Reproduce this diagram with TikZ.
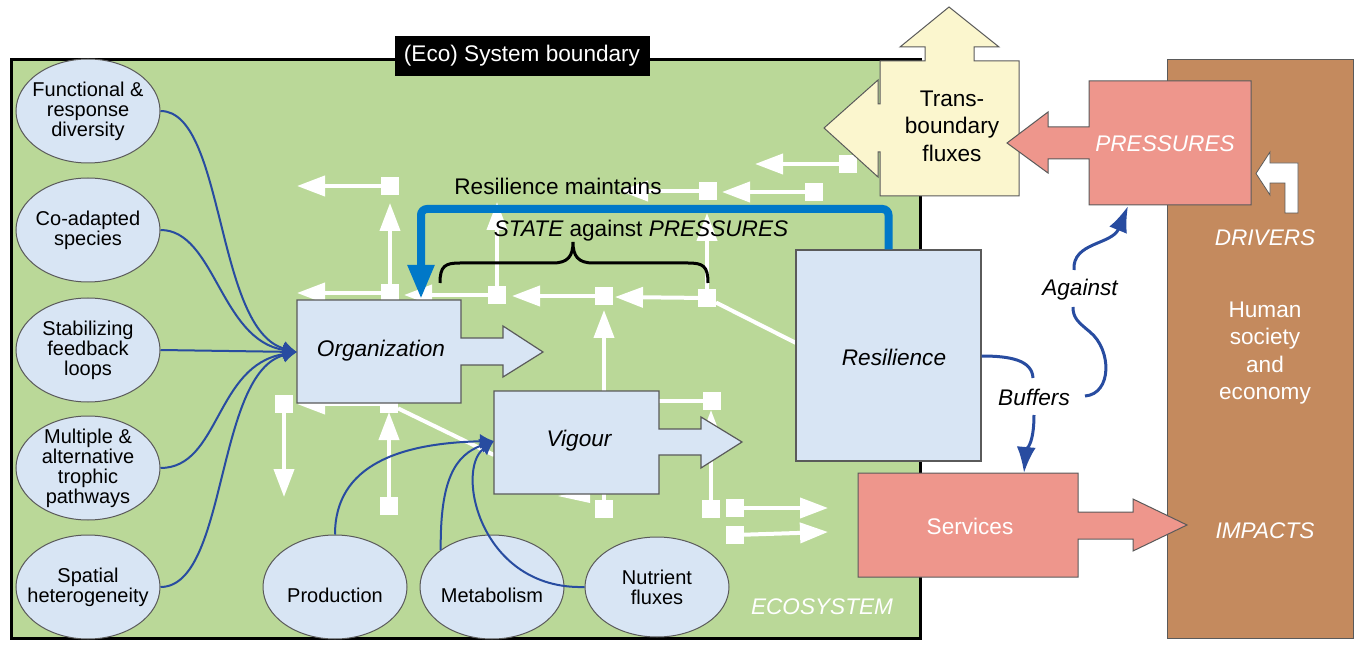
\documentclass[tikz,border=0pt]{standalone}
\usepackage{fontspec}
\setmainfont{Liberation Sans}
\usetikzlibrary{arrows.meta,shapes.geometric}
\definecolor{ecogreen}{RGB}{186,216,152}
\definecolor{lightblue}{RGB}{216,229,244}
\definecolor{ylw}{RGB}{251,246,206}
\definecolor{pinkred}{RGB}{238,150,140}
\definecolor{brn}{RGB}{196,138,94}
\definecolor{bigblue}{RGB}{0,120,200}
\definecolor{dblue}{RGB}{40,76,160}
\definecolor{edgegrey}{RGB}{90,90,90}
\tikzset{
 wl/.style={white,line width=2pt},
 wa/.style={white,line width=2pt,-{Triangle[length=14pt,width=10pt]}},
 sq/.style={fill=white,draw=none,minimum size=9pt,inner sep=0pt,outer sep=0pt},
 ell/.style={ellipse,draw=edgegrey,line width=0.5pt,fill=lightblue,minimum width=72pt,minimum height=52pt,inner sep=0pt},
 etxt/.style={align=center,inner sep=0pt,font=\fontsize{10}{10}\selectfont},
 boxshape/.style={draw=edgegrey,line width=0.6pt,fill=lightblue},
 lbl/.style={font=\fontsize{11.3}{13.7}\selectfont,align=center,inner sep=0pt},
 conn/.style={dblue,line width=1pt,-{Latex[length=7pt,width=7.5pt]}},
 bconn/.style={dblue,line width=1.5pt},
 bconnarrow/.style={dblue,line width=1.5pt,-{Latex[length=13pt,width=9.5pt]}},
}
\begin{document}
\begin{tikzpicture}[x=0.5pt,y=-0.5pt]
\useasboundingbox (0,0) rectangle (1366,652);
% ecosystem area
\draw[fill=ecogreen,line width=1.5pt] (11,60) rectangle (920,638);
\node[fill=black,text=white,minimum width=127.5pt,minimum height=20pt,inner sep=0pt,font=\fontsize{11.3}{13.7}\selectfont] (boundary) at (522,56) {(Eco) System boundary};
\node[white,font=\fontsize{11.3}{13.7}\selectfont\itshape,inner sep=0pt] (ecolbl) at (822,607) {ECOSYSTEM};

% white network squares
\node[sq] (sA) at (390,186) {};
\node[sq] (sB) at (390,293) {};
\node[sq] (sC) at (497,295) {};
\node[sq] (sD) at (604,296) {};
\node[sq] (sE) at (707,298) {};
\node[sq] (sF) at (708,191) {};
\node[sq] (sG) at (814,192) {};
\node[sq] (sH) at (848,164) {};
\node[sq] (sI) at (389,404) {};
\node[sq] (sJ) at (284,404) {};
\node[sq] (sK) at (389,506) {};
\node[sq] (sL) at (604,509) {};
\node[sq] (sM) at (712,401) {};
\node[sq] (sN) at (711,509) {};
\node[sq] (sO) at (735,508) {};
\node[sq] (sP) at (735,535) {};
\coordinate (resleft) at (796,343);
\coordinate (vigleft) at (494,455);
\coordinate (vigright) at (650,401);
% white network arrows
\draw[wa] (sA) -- (297,186);
\draw[wa] (sB) -- (390,203);
\draw[wa] (sB) -- (297,293);
\draw[wa] (sC) -- (404,295);
\draw[wa] (sC) -- (497,202);
\draw[wa] (sD) -- (512,296);
\draw[wa] (sE) -- (615,297);
\draw[wl] (sE) -- (resleft);
\draw[wa] (sE) -- (707,213);
\draw[wa] (sF) -- (620,191);
\draw[wa] (sG) -- (722,192);
\draw[wa] (sH) -- (755,164);
\draw[wa] (sI) -- (297,404);
\draw[wl] (sI) -- (vigleft);
\draw[wa] (sJ) -- (284,497);
\draw[wa] (sK) -- (389,412);
\draw[wa] (sL) -- (604,310);
\draw[wl] (sM) -- (vigright);
\draw[wa] (sN) -- (711,410);
\draw[wa] (sO) -- (828,508);
\draw[wa] (sP) -- (828,532);
\fill[white] (558,496) -- (590,489) -- (590,503) -- cycle;

% Organization
\draw[boxshape] (297,300) -- (461,300) -- (461,338) -- (503,338) -- (503,326) -- (543,352) -- (503,377) -- (503,365) -- (461,365) -- (461,403) -- (297,403) -- cycle;
\node[lbl] (org) at (381,351) {\itshape Organization};
\coordinate (orgin) at (297,352);
\coordinate (orgtop) at (421,299);
% Vigour
\draw[boxshape] (494,391) -- (659,391) -- (659,429) -- (701,429) -- (701,417) -- (742,442) -- (701,468) -- (701,455) -- (659,455) -- (659,494) -- (494,494) -- cycle;
\node[lbl] (vig) at (579,441) {\itshape Vigour};
\coordinate (vigin) at (494,441);
% Resilience
\node[boxshape,rectangle,minimum width=92.5pt,minimum height=105.5pt,inner sep=0pt] (res) at (888.5,355.5) {};
\node[lbl] (restxt) at (894,357) {\itshape Resilience};

% big blue arrow
\draw[bigblue,line width=4pt,rounded corners=3pt,-{Triangle[length=17pt,width=12.5pt]}] (res.north) -- (888.5,209) -- (421,209) -- (orgtop);
\node[lbl] (maint) at (558,186) {Resilience maintains};
\node[lbl] (state) at (641,231) {\itshape STATE\upshape{} against \itshape PRESSURES};
\draw[black,line width=1.5pt] (440,283) .. controls (440,266) and (445,263) .. (460,263) -- (553,263) .. controls (568,263) and (573,256) .. (573,242) .. controls (573,256) and (578,263) .. (593,263) -- (688,263) .. controls (703,263) and (708,266) .. (708,283);

% left ellipses
\node[ell] (e1) at (88,111) {};
\node[etxt] (e1t) at (e1) {Functional \&\\response\\diversity};
\node[ell] (e2) at (88,230) {};
\node[etxt] (e2t) at (e2) {Co-adapted\\species};
\node[ell] (e3) at (88,350) {};
\node[etxt] (e3t) at (e3) {Stabilizing\\feedback\\loops};
\node[ell] (e4) at (88,468) {};
\node[etxt] (e4t) at (e4) {Multiple \&\\alternative\\trophic\\pathways};
\node[ell] (e5) at (88,587) {};
\node[etxt] (e5t) at (e5) {Spatial\\heterogeneity};
% bottom ellipses
\node[ell] (p1) at (335,587) {};
\node[etxt] (p1t) at (335,595) {Production};
\node[ell] (p2) at (492,587) {};
\node[etxt] (p2t) at (492,595) {Metabolism};
\node[ell,minimum height=50pt] (p3) at (657,587) {};
\node[etxt] (p3t) at (p3) {Nutrient\\fluxes};

% connectors to Organization
\draw[conn] (e1.east) .. controls (225,111) and (215,330) .. (orgin);
\draw[conn] (e2.east) .. controls (215,230) and (220,340) .. (orgin);
\draw[conn] (e3.east) -- (orgin);
\draw[conn] (e4.east) .. controls (220,468) and (215,365) .. (orgin);
\draw[conn] (e5.east) .. controls (228,587) and (215,372) .. (orgin);
% connectors to Vigour
\draw[conn] (p1.north) .. controls (335,465) and (400,443) .. (vigin);
\draw[conn] (p2.north west) .. controls (440,480) and (455,455) .. (vigin);
\draw[conn] (p3.west) .. controls (480,590) and (455,470) .. (vigin);

% Trans-boundary fluxes
\draw[fill=ylw,draw=edgegrey,line width=0.5pt] (880,61) -- (925,61) -- (925,47) -- (900,47) -- (949,7) -- (999,47) -- (974,47) -- (974,61) -- (1019,61) -- (1019,196) -- (880,196) -- (880,152) -- (878,152) -- (878,177) -- (824,128) -- (878,80) -- (878,104) -- (880,104) -- cycle;
\node[lbl] (trans) at (952,126) {Trans-\\boundary\\fluxes};

% Human society
\draw[fill=brn,draw=edgegrey,line width=0.5pt] (1167,60) rectangle (1353,638);
\node[lbl,white] (human) at (1265,353) {Human\\society\\and\\economy};
\node[lbl,white] (drivers) at (1265,238) {\itshape DRIVERS};
\node[lbl,white] (impacts) at (1265,531) {\itshape IMPACTS};
\draw[fill=white,draw=edgegrey,line width=0.4pt] (1285,213) -- (1298,213) -- (1298,163) -- (1270,163) -- (1270,152) -- (1256,173.5) -- (1270,195) -- (1270,183) -- (1285,183) -- cycle;

% Pressures
\draw[fill=pinkred,draw=edgegrey,line width=0.5pt] (1089,81) -- (1251,81) -- (1251,205) -- (1089,205) -- (1089,159) -- (1048,159) -- (1048,173) -- (1007,143) -- (1048,112) -- (1048,127) -- (1089,127) -- cycle;
\node[lbl,white] (press) at (1165,144) {\itshape PRESSURES};
\coordinate (pressbottom) at (1128,206);

% Services
\draw[fill=pinkred,draw=edgegrey,line width=0.5pt] (858,473) -- (1078,473) -- (1078,512) -- (1133,512) -- (1133,499) -- (1187,525) -- (1133,551) -- (1133,539) -- (1078,539) -- (1078,577) -- (858,577) -- cycle;
\node[lbl,white] (serv) at (970,526) {Services};
\coordinate (servtop) at (1024,473);

% Buffers / Against
\node[lbl] (buf) at (1034,397) {\itshape Buffers};
\node[lbl] (against) at (1080,290) {\itshape Against};
\draw[bconn] (res.east |- 0,356) .. controls (1010,356) and (1032,360) .. (1033,378);
\draw[bconnarrow] (1034,415) .. controls (1034,445) and (1026,450) .. (servtop);
\draw[bconn] (1085,396) .. controls (1112,394) and (1112,350) .. (1090,332) .. controls (1078,322) and (1073,318) .. (1073,307);
\draw[bconnarrow] (1074,270) .. controls (1072,242) and (1112,245) .. (pressbottom);
\end{tikzpicture}
\end{document}
